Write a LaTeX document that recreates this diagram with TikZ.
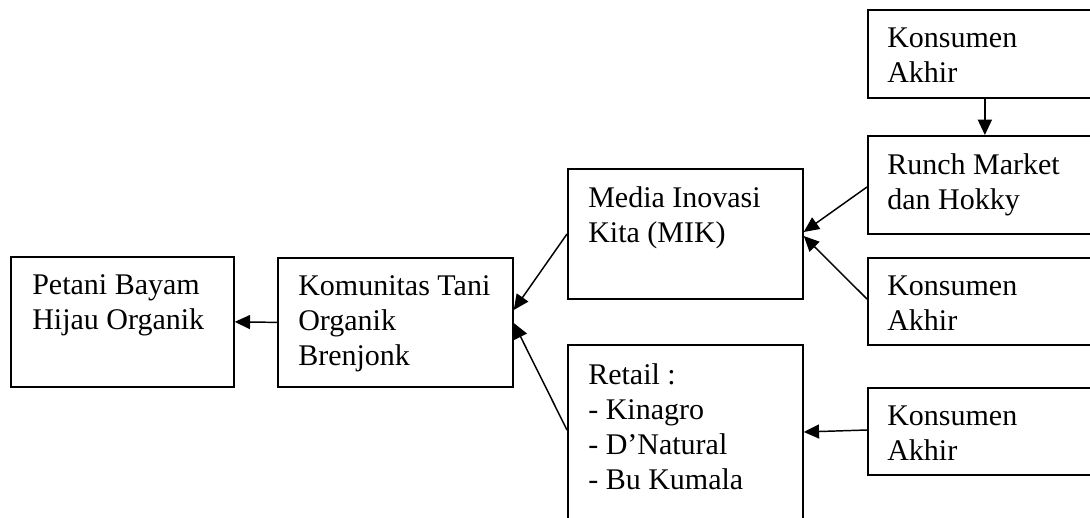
\documentclass[tikz,border=0pt]{standalone}
\usepackage{fontspec}
\setmainfont{Liberation Serif}
\usetikzlibrary{arrows.meta,calc}
\tikzset{
  box/.style={draw, line width=1.3pt, inner sep=0pt, anchor=north west},
  txt/.style={anchor=north west, inner sep=0pt, align=left,
    font=\fontsize{22.5}{26.25}\selectfont},
  arr/.style={line width=1.1pt, -{Triangle[length=11.5pt,width=10.5pt]}}
}
\begin{document}
\begin{tikzpicture}[x=0.75pt,y=-0.75pt]
\clip (0,0) rectangle (1090,518);
\fill[white] (0,0) rectangle (1090,518);
% boxes
\node[box, minimum width=223*0.75pt, minimum height=130*0.75pt] (pet) at (10,256) {};
\node[box, minimum width=235*0.75pt, minimum height=129*0.75pt] (kom) at (277,257) {};
\node[box, minimum width=235*0.75pt, minimum height=130*0.75pt] (mik) at (567,168) {};
\node[box, minimum width=235*0.75pt, minimum height=200*0.75pt] (ret) at (567,344) {};
\node[box, minimum width=234*0.75pt, minimum height=88*0.75pt] (ka) at (867,9) {};
\node[box, minimum width=234*0.75pt, minimum height=98*0.75pt] (run) at (867,135) {};
\node[box, minimum width=234*0.75pt, minimum height=87*0.75pt] (kb) at (867,257) {};
\node[box, minimum width=234*0.75pt, minimum height=87*0.75pt] (kc) at (867,387) {};
% texts
\node[txt] (petT) at ($(pet.north west)+(22,18.5)$) {Petani Bayam\\Hijau Organik};
\node[txt] (komT) at ($(kom.north west)+(21,18)$) {Komunitas Tani\\Organik\\Brenjonk};
\node[txt] (mikT) at ($(mik.north west)+(21,18)$) {Media Inovasi\\Kita (MIK)};
\node[txt] (retT) at ($(ret.north west)+(21,19.5)$) {Retail :\\- Kinagro\\- D’Natural\\- Bu Kumala};
\node[txt] (kaT) at ($(ka.north west)+(20,18.5)$) {Konsumen\\Akhir};
\node[txt] (runT) at ($(run.north west)+(20,18.5)$) {Runch Market\\dan Hokky};
\node[txt] (kbT) at ($(kb.north west)+(20,18.5)$) {Konsumen\\Akhir};
\node[txt] (kcT) at ($(kc.north west)+(20,18.5)$) {Konsumen\\Akhir};
% connectors
\draw[arr] (kom.west) -- (pet.east);
\draw[arr] (ka.south) -- (run.north);
\draw[arr] ($(run.north west)+(0,52)$) -- ($(mik.north east)+(0,64)$);
\draw[arr] ($(kb.north west)+(0,42)$) -- ($(mik.north east)+(0,68)$);
\draw[arr] ($(kc.north west)+(0,43)$) -- ($(ret.north east)+(0,88)$);
\draw[arr] ($(mik.north west)+(0,66)$) -- ($(kom.north east)+(0,53)$);
\draw[arr] ($(ret.north west)+(0,86)$) -- ($(kom.north east)+(0,66)$);
\end{tikzpicture}
\end{document}
